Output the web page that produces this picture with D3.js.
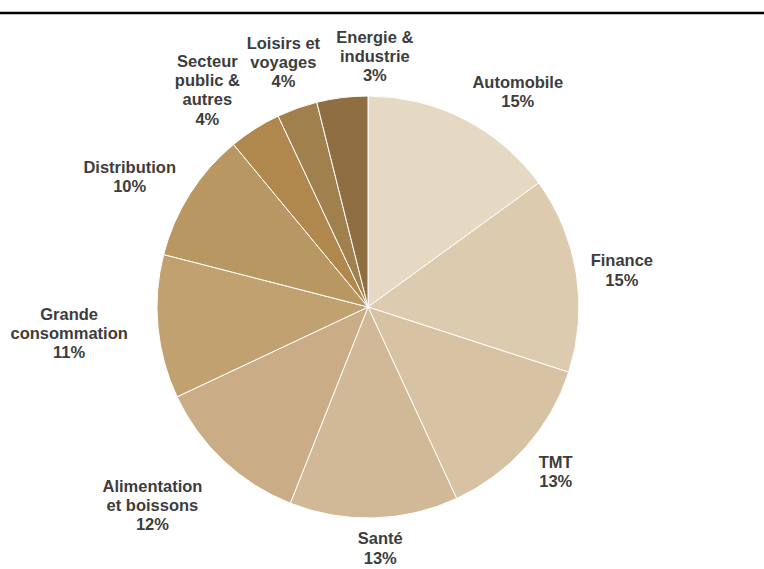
<!DOCTYPE html>
<html lang="fr">
<head>
<meta charset="UTF-8">
<script src="https://d3js.org/d3.v7.min.js"></script>
<title>Secteurs</title>
<style>
  body { margin: 0; background: #fff; }
  text { font-family: "Liberation Sans", Arial, sans-serif; font-weight: bold; fill: #3d3d3d; }
</style>
</head>
<body>
<div id="canvas"></div>
<script>
// data (slice sizes from the angles, labels as printed)
const sectors = [["Automobile"], ["Finance"], ["TMT"], ["Santé"], ["Alimentation", "et boissons"],
  ["Grande", "consommation"], ["Distribution"], ["Secteur", "public &", "autres"],
  ["Loisirs et", "voyages"], ["Energie &", "industrie"]]
const shares = [15, 15, 13.1, 12.9, 12, 11, 10, 4, 3.1, 3.9]
const pctLabels = ["15%", "15%", "13%", "13%", "12%", "11%", "10%", "4%", "4%", "3%"]
const colors = ["#e5d9c4", "#ddcbb0", "#d7c3a4", "#d1b997", "#caad86", "#c2a170", "#b89762",
  "#b0884e", "#a0804c", "#8f6f42"]

const W = 764, H = 569
const cx = 368, cy = 307, r = 211
// hand nudges of the label blocks from their spot on the label ring
const nudge = [[34, 12], [2, 3], [-3, -5], [5, -14], [-41, 12], [-45, 2], [-23, 6], [-24, -2], [1, -5], [38, 2]]

const svg = d3.select("#canvas").append("svg").attr("width", W).attr("height", H)

svg.append("line").attr("x1", 0).attr("x2", W).attr("y1", 13).attr("y2", 13)
  .attr("stroke", "#000").attr("stroke-width", 2.5)

const pie = d3.pie().sort(null).value(d => d)
const arcs = pie(shares)
const arc = d3.arc().innerRadius(0).outerRadius(r)
const labelArc = d3.arc().innerRadius(255).outerRadius(255)

const g = svg.append("g").attr("transform", `translate(${cx},${cy})`)
g.selectAll("path").data(arcs).enter().append("path")
  .attr("d", arc)
  .attr("fill", (d, i) => colors[i])
  .attr("stroke", "#fff").attr("stroke-width", 1)

const lineH = 19.3
arcs.forEach((d, i) => {
  const c = labelArc.centroid(d)
  const lines = sectors[i].concat([pctLabels[i]])
  const x = c[0] + nudge[i][0], y = c[1] + nudge[i][1]
  const t = g.append("text").attr("text-anchor", "middle").attr("font-size", "16.5px")
  lines.forEach((s, k) => {
    t.append("tspan").attr("x", x)
      .attr("y", y + (k - (lines.length - 1) / 2) * lineH)
      .attr("dominant-baseline", "central")
      .text(s)
  })
})
</script>
</body>
</html>
